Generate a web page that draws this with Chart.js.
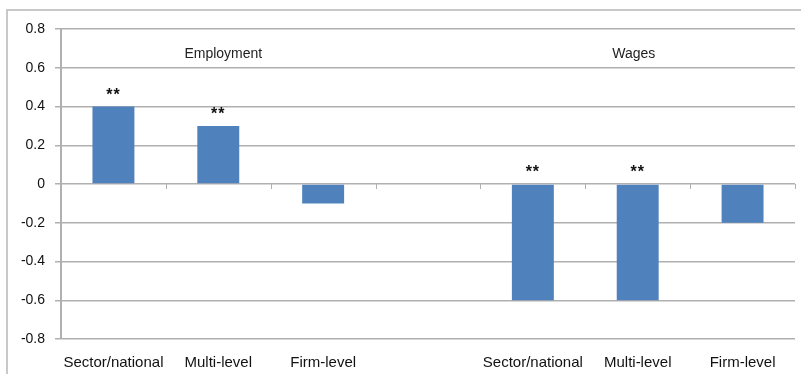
<!DOCTYPE html>
<html>
<head>
<meta charset="utf-8">
<script src="https://cdn.jsdelivr.net/npm/chart.js@4"></script>
<style>
  body { margin: 0; background: #fff; }
  #wrap { width: 801px; height: 374px; position: relative; }
</style>
</head>
<body>
<div id="wrap"><canvas id="chart"></canvas></div>
<script>
// chart data
const categories = ['Sector/national', 'Multi-level', 'Firm-level', '', 'Sector/national', 'Multi-level', 'Firm-level'];
const values = [0.4, 0.3, -0.1, null, -0.6, -0.6, -0.2];
const stars = ['**', '**', '', '', '**', '**', ''];
const groupTitles = ['Employment', 'Wages'];
const groupCenters = [1, 5];   // category index the title sits over
const yTicks = [-0.8, -0.6, -0.4, -0.2, 0, 0.2, 0.4, 0.6, 0.8];

const gridColor = '#b0b0b0';
const fontFamily = '"Liberation Sans", Arial, sans-serif';

const extras = {
  id: 'extras',
  beforeDraw(chart) {
    const ctx = chart.ctx;
    ctx.save();
    ctx.strokeStyle = '#c8c8c8';
    ctx.lineWidth = 2;
    ctx.strokeRect(7, 10, 820, 400);
    ctx.restore();
  },
  afterDatasetsDraw(chart) {
    const ctx = chart.ctx;
    const x = chart.scales.x, y = chart.scales.y;
    const y0 = y.getPixelForValue(0);
    ctx.save();
    // small tick marks on the zero line between categories
    ctx.strokeStyle = gridColor;
    ctx.lineWidth = 1;
    for (let i = 1; i <= categories.length; i++) {
      const px = i === categories.length ? chart.chartArea.right :
        (x.getPixelForValue(i - 1) + x.getPixelForValue(i)) / 2;
      ctx.beginPath();
      ctx.moveTo(Math.round(px) + 0.5, y0);
      ctx.lineTo(Math.round(px) + 0.5, y0 + 5);
      ctx.stroke();
    }
    // significance stars
    ctx.fillStyle = '#111';
    ctx.font = 'bold 16px ' + fontFamily;
    ctx.letterSpacing = '1px';
    ctx.textAlign = 'center';
    ctx.textBaseline = 'middle';
    stars.forEach((s, i) => {
      if (!s) return;
      const top = y.getPixelForValue(Math.max(values[i], 0));
      ctx.fillText(s, x.getPixelForValue(i), top - 11);
    });
    // group titles
    ctx.letterSpacing = '0px';
    ctx.fillStyle = '#222';
    ctx.font = '14px ' + fontFamily;
    const shift = [5, -4];
    groupTitles.forEach((t, i) => {
      ctx.fillText(t, x.getPixelForValue(groupCenters[i]) + shift[i], y.getPixelForValue(0.67));
    });
    ctx.restore();
  }
};

new Chart(document.getElementById('chart'), {
  type: 'bar',
  data: {
    labels: categories,
    datasets: [{
      data: values,
      backgroundColor: '#4f81bd',
      borderWidth: 0,
      barPercentage: 0.4,
      categoryPercentage: 1.0
    }]
  },
  options: {
    responsive: true,
    maintainAspectRatio: false,
    animation: false,
    layout: { padding: { left: 0, top: 29, right: 6, bottom: 0 } },
    plugins: { legend: { display: false }, tooltip: { enabled: false } },
    scales: {
      x: {
        grid: { display: false, drawTicks: false },
        border: { display: false },
        ticks: {
          color: '#111',
          padding: 15,
          maxRotation: 0,
          autoSkip: false,
          font: { family: fontFamily, size: 15 }
        },
        afterFit(scale) { scale.height = 35; }
      },
      y: {
        min: -0.8,
        max: 0.8,
        afterBuildTicks(scale) { scale.ticks = yTicks.map(v => ({ value: v })); },
        grid: { color: gridColor, lineWidth: 1.5, tickLength: 6 },
        border: { color: gridColor, width: 2 },
        ticks: {
          color: '#111',
          padding: 10,
          font: { family: fontFamily, size: 14 },
          callback: v => (Math.round(v * 10) / 10).toString()
        },
        afterFit(scale) { scale.width = 61; }
      }
    }
  },
  plugins: [extras]
});
</script>
</body>
</html>
